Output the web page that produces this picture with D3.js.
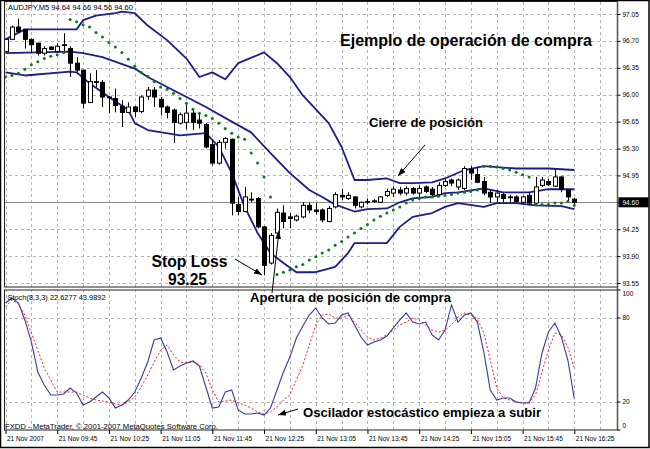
<!DOCTYPE html>
<html>
<head>
<meta charset="utf-8" />
<title>AUDJPY M5 - Ejemplo de operación de compra</title>
<style type="text/css">
  body { margin: 0; background: #fff; }
  svg { display: block; font-family: 'Liberation Sans', Arial, sans-serif; }
  .lbl { font-size: 6.5px; fill: #000; }
  .note { font-weight: bold; fill: #000; }
  .grid line { stroke: #b4b4b4; stroke-dasharray: 3,3; shape-rendering: crispEdges; }
  .grid path { display: none; }
</style>
</head>
<body>
<svg id="chart" width="650" height="449"></svg>

<script src="https://d3js.org/d3.v7.min.js"></script>
<script>
// price axis and time axis labels
var priceTicks = [93.55, 93.90, 94.25, 94.60, 94.95, 95.30, 95.65, 96.00, 96.35, 96.70, 97.05];
var stochTicks = [0, 20, 80, 100];
var timeLabels = ['21 Nov 2007', '21 Nov 09:45', '21 Nov 10:25', '21 Nov 11:05', '21 Nov 11:45', '21 Nov 12:25',
                  '21 Nov 13:05', '21 Nov 13:45', '21 Nov 14:25', '21 Nov 15:05', '21 Nov 15:45', '21 Nov 16:25'];
var timeLabelBars = [0, 8, 16, 24, 32, 40, 48, 56, 64, 72, 80, 88];

// M5 candles, one per bar (09:05 .. 16:25)
var open = [96.56, 96.72, 96.88, 96.85, 96.72, 96.67, 96.54, 96.62, 96.56, 96.64,
  96.60, 96.41, 96.32, 95.90, 96.17, 96.16, 95.97, 95.95, 95.85, 95.77,
  95.84, 95.78, 95.98, 96.06, 95.94, 95.84, 95.80, 95.63, 95.64, 95.76,
  95.67, 95.61, 95.35, 95.11, 95.38, 95.42, 94.57, 94.48, 94.64, 94.65,
  94.28, 93.81, 94.20, 94.46, 94.41, 94.37, 94.41, 94.56, 94.50, 94.50,
  94.35, 94.54, 94.69, 94.65, 94.67, 94.54, 94.61, 94.61, 94.60, 94.69,
  94.72, 94.76, 94.72, 94.78, 94.72, 94.80, 94.77, 94.70, 94.82, 94.89,
  94.80, 94.78, 95.03, 94.96, 94.87, 94.73, 94.67, 94.70, 94.67, 94.67,
  94.60, 94.69, 94.59, 94.82, 94.87, 94.81, 94.93, 94.76, 94.64];
var high = [96.73, 96.90, 96.99, 96.85, 96.73, 96.68, 96.63, 96.63, 96.67, 96.80,
  96.63, 96.49, 96.32, 96.28, 96.32, 96.19, 95.98, 96.08, 95.93, 95.90,
  95.85, 95.99, 96.10, 96.10, 95.97, 95.86, 95.82, 95.77, 95.89, 95.80,
  95.77, 95.63, 95.41, 95.41, 95.45, 95.43, 94.67, 94.80, 94.73, 94.67,
  94.29, 94.20, 94.52, 94.56, 94.46, 94.44, 94.60, 94.60, 94.59, 94.52,
  94.55, 94.73, 94.77, 94.73, 94.68, 94.61, 94.65, 94.64, 94.68, 94.78,
  94.81, 94.80, 94.81, 94.80, 94.82, 94.82, 94.80, 94.86, 94.90, 94.91,
  94.91, 95.07, 95.07, 95.06, 94.93, 94.76, 94.76, 94.72, 94.70, 94.69,
  94.69, 94.72, 94.93, 94.93, 94.90, 95.03, 94.94, 94.76, 94.66];
var low = [96.55, 96.71, 96.80, 96.60, 96.54, 96.51, 96.51, 96.58, 96.55, 96.54,
  96.23, 96.28, 95.82, 95.89, 96.10, 95.84, 95.76, 95.77, 95.58, 95.76,
  95.71, 95.76, 95.93, 95.84, 95.73, 95.69, 95.37, 95.61, 95.55, 95.54,
  95.56, 95.30, 95.08, 95.09, 95.30, 94.43, 94.43, 94.47, 94.60, 94.26,
  93.65, 93.79, 94.17, 94.26, 94.26, 94.35, 94.39, 94.46, 94.44, 94.34,
  94.34, 94.52, 94.63, 94.63, 94.52, 94.52, 94.57, 94.59, 94.59, 94.67,
  94.67, 94.69, 94.69, 94.70, 94.63, 94.72, 94.68, 94.68, 94.80, 94.81,
  94.76, 94.76, 94.89, 94.85, 94.69, 94.59, 94.60, 94.60, 94.59, 94.59,
  94.57, 94.56, 94.57, 94.80, 94.81, 94.80, 94.73, 94.60, 94.56];
var close = [96.72, 96.88, 96.82, 96.72, 96.65, 96.54, 96.60, 96.59, 96.63, 96.65,
  96.41, 96.32, 95.89, 96.17, 96.16, 95.97, 95.96, 95.86, 95.77, 95.84,
  95.78, 95.97, 96.06, 95.97, 95.84, 95.77, 95.64, 95.74, 95.76, 95.64,
  95.63, 95.32, 95.11, 95.38, 95.43, 94.59, 94.48, 94.67, 94.63, 94.28,
  93.78, 94.17, 94.47, 94.35, 94.39, 94.42, 94.56, 94.50, 94.48, 94.37,
  94.52, 94.70, 94.67, 94.69, 94.56, 94.60, 94.61, 94.62, 94.67, 94.74,
  94.77, 94.72, 94.78, 94.72, 94.78, 94.74, 94.70, 94.82, 94.87, 94.85,
  94.89, 95.04, 94.98, 94.86, 94.72, 94.67, 94.72, 94.65, 94.66, 94.61,
  94.67, 94.59, 94.80, 94.89, 94.83, 94.93, 94.77, 94.67, 94.60];

// parabolic SAR, one dot per bar
var sar = [96.23, 96.25, 96.28, 96.33, 96.39, 96.43, 96.47, 96.50, 96.52, 96.55,
  96.98, 96.95, 96.91, 96.88, 96.81, 96.75, 96.68, 96.62, 96.55, 96.46,
  96.37, 96.29, 96.24, 96.17, 96.10, 96.07, 96.02, 95.95, 95.89, 95.81,
  95.76, 95.73, 95.69, 95.63, 95.56, 95.50, 95.45, 95.42, 95.24, 95.11,
  94.93, 94.67, 93.66, 93.69, 93.72, 93.76, 93.79, 93.85, 93.89, 93.94,
  93.98, 94.04, 94.09, 94.15, 94.20, 94.26, 94.31, 94.37, 94.42, 94.46,
  94.50, 94.54, 94.59, 94.63, 94.65, 94.67, 94.67, 94.68, 94.69, 94.70,
  94.72, 94.73, 94.74, 94.76, 95.07, 95.07, 95.06, 95.04, 95.02, 94.99,
  94.96, 94.93, 94.57, 94.57, 94.57, 94.59, 94.59, 94.61, 94.56];

// Bollinger bands, read as [bar, price] vertices
var bbUpper = [[0, 96.72], [3, 96.85], [11, 96.85], [12, 96.97], [14, 97.03], [17, 97.06], [18, 97.08], [20, 97.06],
  [22, 96.90], [25, 96.71], [28, 96.47], [30, 96.23], [32, 96.29], [34, 96.20], [36, 96.41], [40, 96.55],
  [42, 96.41], [44, 96.23], [46, 95.99], [50, 95.63], [52, 95.32], [54, 94.89], [56, 94.89], [59, 94.91],
  [61, 94.85], [63, 94.85], [66, 94.86], [68, 94.91], [71, 95.02], [74, 95.07], [79, 95.04], [84, 95.04], [88, 95.02]];
var bbMiddle = [[0, 96.54], [10, 96.56], [12, 96.54], [15, 96.49], [20, 96.34], [22, 96.23], [25, 96.10], [28, 95.97],
  [31, 95.84], [35, 95.65], [38, 95.51], [41, 95.24], [44, 94.98], [47, 94.76], [49, 94.67], [51, 94.57],
  [54, 94.48], [56, 94.51], [59, 94.52], [61, 94.60], [63, 94.65], [66, 94.67], [68, 94.72], [70, 94.73],
  [74, 94.78], [77, 94.73], [81, 94.73], [84, 94.77], [88, 94.77]];
var bbLower = [[0, 96.29], [3, 96.25], [10, 96.30], [11, 96.29], [13, 96.15], [16, 95.97], [19, 95.80], [20, 95.63],
  [22, 95.54], [27, 95.47], [31, 95.50], [33, 95.32], [35, 94.98], [37, 94.54], [39, 94.20], [41, 93.94],
  [43, 93.81], [45, 93.69], [48, 93.69], [51, 93.76], [53, 93.94], [54, 94.07], [59, 94.07], [61, 94.28],
  [63, 94.41], [66, 94.46], [68, 94.54], [70, 94.59], [74, 94.54], [76, 94.59], [79, 94.59], [82, 94.56],
  [86, 94.55], [88, 94.51]];

// Stoch(8,3,3) main (%K) and signal (%D)
var stochK = [90.7, 94.3, 90.7, 78.6, 62.9, 41.4, 32.1, 25.0, 25.0, 25.7,
  30.0, 26.4, 17.9, 20.0, 23.6, 27.1, 22.9, 15.7, 17.9, 21.4,
  27.1, 37.1, 48.6, 64.3, 65.7, 55.7, 42.9, 45.7, 47.9, 49.3,
  45.7, 30.7, 15.7, 16.4, 27.1, 28.6, 14.3, 11.4, 11.4, 12.1,
  10.7, 15.7, 28.6, 41.4, 52.1, 65.7, 74.3, 82.1, 87.1, 80.0,
  75.7, 76.4, 82.1, 83.6, 75.0, 66.4, 60.7, 62.9, 64.3, 67.1,
  72.9, 78.6, 83.6, 77.1, 75.7, 77.1, 67.9, 64.3, 71.4, 89.3,
  77.1, 82.1, 83.6, 77.1, 55.7, 28.6, 21.4, 22.9, 22.9, 20.0,
  19.3, 19.3, 30.0, 55.0, 70.0, 76.4, 66.4, 50.0, 22.63];
var stochD = [87.9, 92.9, 90.0, 82.1, 69.3, 57.1, 44.3, 35.7, 27.1, 27.1,
  27.1, 27.1, 25.0, 22.9, 21.4, 20.7, 20.0, 18.6, 17.9, 20.0,
  23.6, 30.7, 39.3, 48.6, 57.1, 60.7, 53.6, 48.6, 47.9, 48.6,
  46.4, 40.7, 28.6, 20.0, 20.7, 21.4, 19.3, 17.9, 15.7, 12.9,
  11.4, 12.9, 16.4, 21.4, 25.0, 35.7, 46.4, 60.7, 75.0, 82.1,
  82.9, 80.0, 80.0, 82.1, 77.1, 71.4, 66.4, 64.3, 65.7, 67.9,
  71.4, 75.0, 77.1, 80.0, 78.6, 75.0, 71.4, 70.0, 71.4, 75.0,
  80.7, 83.6, 82.1, 79.3, 69.3, 50.0, 30.0, 22.9, 21.4, 20.0,
  19.3, 20.0, 25.0, 41.4, 57.1, 69.3, 67.9, 59.3, 43.99];

var lastPrice = 94.60;

var svg = d3.select('#chart');
var left = 4.5, right = 617.5;
var mainTop = 1.5, mainBottom = 287;
var subTop = 290, subBottom = 430;

var x = d3.scaleLinear().domain([0, 88]).range([5.5, 574.3]);
var y = d3.scaleLinear().domain([93.55, 97.05]).range([283, 14]);
var ys = d3.scaleLinear().domain([0, 100]).range([subBottom, subTop]);

var defs = svg.append('defs');
defs.append('clipPath').attr('id', 'clipMain').append('rect')
  .attr('x', left).attr('y', mainTop).attr('width', right - left).attr('height', mainBottom - mainTop);
defs.append('clipPath').attr('id', 'clipSub').append('rect')
  .attr('x', left).attr('y', subTop).attr('width', right - left).attr('height', subBottom - subTop);
defs.append('marker').attr('id', 'arrow')
  .attr('viewBox', '0 0 8 6').attr('refX', 8).attr('refY', 3)
  .attr('markerWidth', 8).attr('markerHeight', 6)
  .attr('markerUnits', 'userSpaceOnUse').attr('orient', 'auto')
  .append('path').attr('d', 'M0,0L8,3L0,6Z').attr('fill', '#000');

// outer frame
svg.append('rect').attr('x', 0.5).attr('y', 0.5).attr('width', 648.5).attr('height', 447)
  .attr('fill', '#fff').attr('stroke', '#000').attr('stroke-width', 1.5);

// grid: every 4 bars vertically, price ticks / 20-80 horizontally
var gridBars = d3.range(0, 93, 4);
var gMain = svg.append('g').attr('clip-path', 'url(#clipMain)');
var gSub = svg.append('g').attr('clip-path', 'url(#clipSub)');

gMain.append('g').attr('class', 'grid')
  .attr('transform', 'translate(0,' + mainBottom + ')')
  .call(d3.axisBottom(x).tickValues(gridBars).tickSize(-(mainBottom - mainTop)).tickFormat(''));
gMain.append('g').attr('class', 'grid')
  .attr('transform', 'translate(' + right + ',0)')
  .call(d3.axisLeft(y).tickValues(priceTicks).tickSize(right - left).tickFormat(''));
gSub.append('g').attr('class', 'grid')
  .attr('transform', 'translate(0,' + subBottom + ')')
  .call(d3.axisBottom(x).tickValues(gridBars).tickSize(-(subBottom - subTop)).tickFormat(''));
gSub.append('g').attr('class', 'grid')
  .attr('transform', 'translate(' + right + ',0)')
  .call(d3.axisLeft(ys).tickValues([20, 80]).tickSize(right - left).tickFormat(''));

// current price line
gMain.append('line')
  .attr('x1', left).attr('x2', right)
  .attr('y1', Math.round(y(lastPrice)) + 0.5).attr('y2', Math.round(y(lastPrice)) + 0.5)
  .attr('stroke', '#8c8c8c').attr('stroke-width', 1);

// Bollinger bands
var bbLine = d3.line().x(function (d) { return x(d[0]); }).y(function (d) { return y(d[1]); });
[bbUpper, bbMiddle, bbLower].forEach(function (band) {
  gMain.append('path').datum(band)
    .attr('d', bbLine).attr('fill', 'none')
    .attr('stroke', '#1c1c8a').attr('stroke-width', 1.8).attr('stroke-linejoin', 'round');
});

// candles
var bars = d3.range(open.length);
var candle = gMain.append('g').selectAll('g').data(bars).enter().append('g');
candle.append('line')
  .attr('x1', function (i) { return Math.round(x(i)) + 0.5; })
  .attr('x2', function (i) { return Math.round(x(i)) + 0.5; })
  .attr('y1', function (i) { return y(high[i]); })
  .attr('y2', function (i) { return y(low[i]); })
  .attr('stroke', '#000').attr('stroke-width', 1);
candle.append('rect')
  .attr('x', function (i) { return Math.round(x(i)) - 1.5; })
  .attr('width', 4)
  .attr('y', function (i) { return y(Math.max(open[i], close[i])); })
  .attr('height', function (i) { return Math.max(0.8, Math.abs(y(open[i]) - y(close[i]))); })
  .attr('fill', function (i) { return close[i] < open[i] ? '#000' : '#fff'; })
  .attr('stroke', '#000').attr('stroke-width', 1);

// parabolic SAR
gMain.append('g').selectAll('circle').data(bars).enter().append('circle')
  .attr('cx', function (i) { return x(i); })
  .attr('cy', function (i) { return y(sar[i]); })
  .attr('r', 1.5)
  .attr('fill', '#0b7a14');

// stochastic lines
var kLine = d3.line().x(function (d, i) { return x(i); }).y(function (d) { return ys(d); });
gSub.append('path').datum(stochD).attr('d', kLine).attr('fill', 'none')
  .attr('stroke', '#ff2020').attr('stroke-width', 1).attr('stroke-dasharray', '2,2');
gSub.append('path').datum(stochK).attr('d', kLine).attr('fill', 'none')
  .attr('stroke', '#3a3a9c').attr('stroke-width', 1.1);

// panel borders
svg.append('rect').attr('x', left).attr('y', mainTop).attr('width', right - left).attr('height', mainBottom - mainTop)
  .attr('fill', 'none').attr('stroke', '#222').attr('stroke-width', 1);
svg.append('rect').attr('x', left).attr('y', subTop).attr('width', right - left).attr('height', subBottom - subTop)
  .attr('fill', 'none').attr('stroke', '#222').attr('stroke-width', 1);
svg.append('line').attr('x1', right).attr('x2', right).attr('y1', mainTop).attr('y2', subBottom)
  .attr('stroke', '#555').attr('stroke-width', 1.5);

// price axis
var yAxis = svg.append('g').attr('transform', 'translate(' + right + ',0)')
  .call(d3.axisRight(y).tickValues(priceTicks).tickSize(3).tickPadding(2).tickFormat(d3.format('.2f')));
yAxis.select('.domain').remove();
yAxis.selectAll('text').attr('class', 'lbl').attr('font-family', null).attr('font-size', null);

// current price box
var lp = svg.append('g').attr('transform', 'translate(' + (right + 1) + ',' + y(lastPrice) + ')');
lp.append('rect').attr('x', 0).attr('y', -5).attr('width', 30).attr('height', 10).attr('fill', '#000');
lp.append('text').attr('class', 'lbl').attr('x', 4).attr('y', 2.3).attr('fill', '#fff')
  .style('fill', '#fff').text(d3.format('.2f')(lastPrice));

// stochastic axis, labels kept inside the panel
var sAxis = svg.append('g');
sAxis.selectAll('line').data(stochTicks).enter().append('line')
  .attr('x1', right).attr('x2', right + 3)
  .attr('y1', function (d) { return ys(d); }).attr('y2', function (d) { return ys(d); })
  .attr('stroke', '#000');
sAxis.selectAll('text').data(stochTicks).enter().append('text')
  .attr('class', 'lbl')
  .attr('x', right + 5)
  .attr('y', function (d) { return Math.min(subBottom - 4, Math.max(subTop + 4, ys(d))) + 2.3; })
  .text(function (d) { return d; });

// time axis
var xAxis = svg.append('g').attr('transform', 'translate(0,' + subBottom + ')')
  .call(d3.axisBottom(x).tickValues(timeLabelBars).tickSize(4).tickPadding(2)
    .tickFormat(function (d, i) { return timeLabels[i]; }));
xAxis.select('.domain').remove();
xAxis.selectAll('text').attr('class', 'lbl').attr('font-family', null).attr('font-size', null)
  .attr('text-anchor', 'start').attr('x', 1);

// header texts
function label(txt, px, py, cls, size, width) {
  var t = svg.append('text').attr('class', cls).attr('x', px).attr('y', py).text(txt);
  if (size) t.style('font-size', size + 'px');
  if (width) t.attr('textLength', width).attr('lengthAdjust', 'spacingAndGlyphs');
  return t;
}
label('AUDJPY,M5  94.64 94.66 94.56 94.60', 8, 9.8, 'lbl', 6.5, 125);
label('Stoch(8,3,3) 22.6277 43.9892', 7.5, 299.8, 'lbl', 6.5, 98);
label('FXDD - MetaTrader, \u00a9 2001-2007 MetaQuotes Software Corp.', 5, 428.5, 'lbl', 6.5, 213);

// annotations
label('Ejemplo de operación de compra', 340, 46, 'note', 16.5, 252);
label('Cierre de posición', 369, 127, 'note', 13.5, 114);
label('Stop Loss', 151.5, 267, 'note', 16, 76);
label('93.25', 168, 285, 'note', 17, 39);
label('Apertura de posición de compra', 250, 302, 'note', 13, 201);
label('Oscilador estocástico empieza a subir', 303, 417, 'note', 13, 238);

var arrows = [
  [425, 145, 398, 176],
  [235, 259, 262, 275],
  [272, 293, 279, 231],
  [298, 409, 278, 415]
];
svg.append('g').selectAll('line').data(arrows).enter().append('line')
  .attr('x1', function (d) { return d[0]; }).attr('y1', function (d) { return d[1]; })
  .attr('x2', function (d) { return d[2]; }).attr('y2', function (d) { return d[3]; })
  .attr('stroke', '#000').attr('stroke-width', 1)
  .attr('marker-end', 'url(#arrow)');
</script>
</body>
</html>
